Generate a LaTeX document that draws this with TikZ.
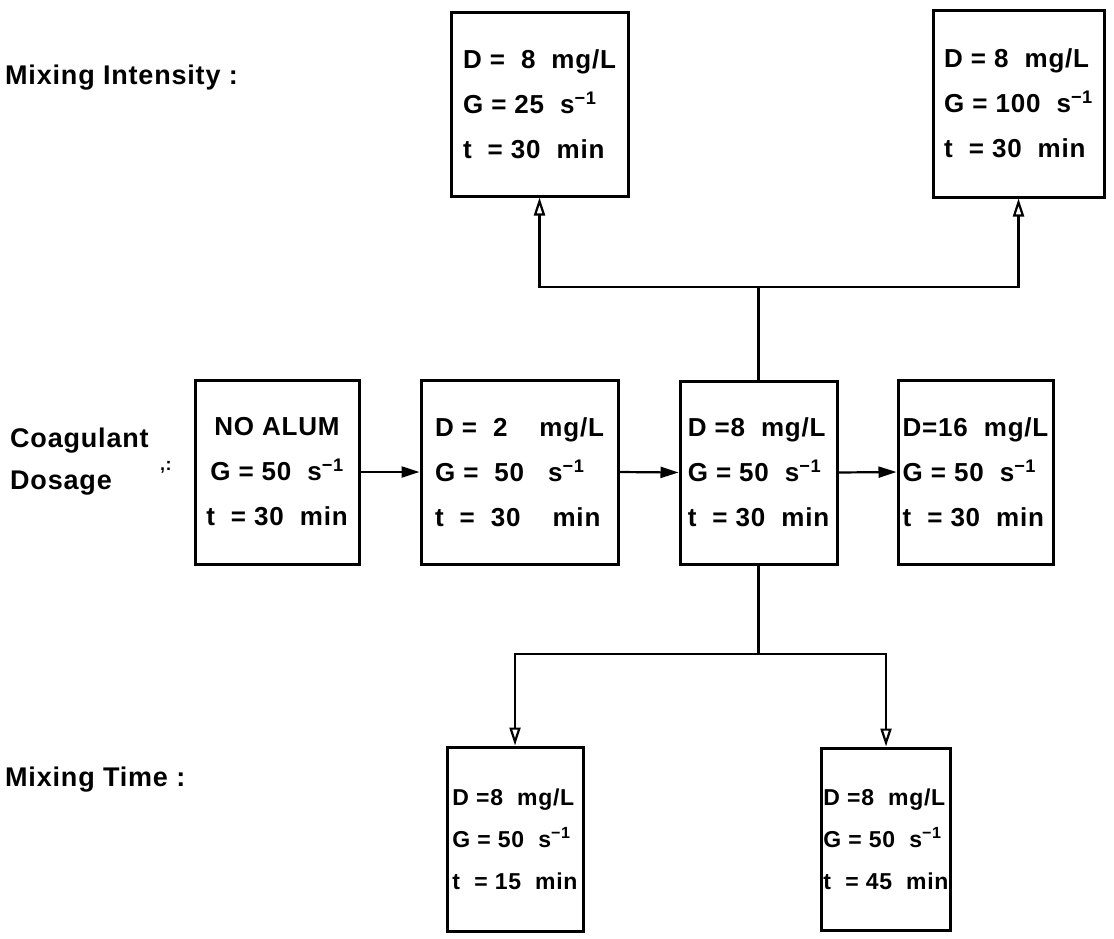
\documentclass[tikz,border=0pt]{standalone}
\usepackage{fontspec}
\setmainfont{Liberation Sans}[LetterSpace=3]
\usetikzlibrary{arrows.meta}
\tikzset{
  box/.style n args={3}{draw, line width=3pt, inner xsep=2pt, inner ysep=0pt,
    minimum width=#1, minimum height=#2, align=#3,
    font=\fontsize{26}{45}\selectfont\bfseries},
  sbox/.style={font=\fontsize{23}{42}\selectfont\bfseries},
  lab/.style={anchor=west, inner sep=0pt, align=left, font=\fontsize{27}{42}\selectfont\bfseries},
  conn/.style={line width=2.2pt},
  harr/.style={conn, -{Triangle[length=18pt,width=11pt]}},
  varr/.style={conn, -{Triangle[open,length=18pt,width=11pt,line width=2.2pt]}},
}
\newcommand{\sm}{\textsuperscript{−1}}
\begin{document}
\begin{tikzpicture}[x=1pt,y=-1pt]
\useasboundingbox (0,0) rectangle (1114,938);
% labels
\node[lab] (l1) at (5,78) {Mixing Intensity :};
\node[lab] (l2) at (10,462) {Coagulant\\Dosage};
\node[lab, font=\fontsize{18}{18}\selectfont\bfseries] (l2c) at (160,467) {,:};
\node[lab] (l3) at (5,780) {Mixing Time :};
% top row
\node[box={177pt}{184pt}{left}] (ti) at (539.5,104) {D = \ 8 \ mg/L\\G = 25 \ s\sm\\t \ = 30 \ min};
\node[box={171pt}{187pt}{left}] (tr) at (1018.5,103.5) {D = 8 \ mg/L\\G = 100 \ s\sm\\t \ = 30 \ min};
% middle row
\node[box={164pt}{184pt}{center}] (n0) at (277,472) {NO ALUM\\G = 50 \ s\sm\\t \ = 30 \ min};
\node[box={197pt}{184pt}{left}] (n2) at (519.5,472) {D = \ 2 \ \ \ mg/L\\G = \ 50 \ \ s\sm\\t \ = \ 30 \ \ \ min};
\node[box={157pt}{183pt}{left}] (n8) at (758.5,472.5) {D =8 \ mg/L\\G = 50 \ s\sm\\t \ = 30 \ min};
\node[box={155pt}{184pt}{left}] (n16) at (975.5,472) {D=16 \ mg/L\\G = 50 \ s\sm\\t \ = 30 \ min};
% bottom row
\node[box={136pt}{184pt}{left}, sbox] (bl) at (515,839) {D =8 \ mg/L\\G = 50 \ s\sm\\t \ = 15 \ min};
\node[box={128pt}{182pt}{left}, sbox] (br) at (886,839) {D =8 \ mg/L\\G = 50 \ s\sm\\t \ = 45 \ min};
% connectors
\draw[harr] (n0.east) -- (n2.west);
\draw[harr] (n2.east) -- (n8.west);
\draw[harr] (n8.east) -- (n16.west);
\coordinate (tj) at (n8.north |- 0,287);
\coordinate (bj) at (n8.south |- 0,654);
\draw[conn] (n8.north) -- (tj);
\draw[varr] (tj) -| (ti.south);
\draw[varr] (tj) -| (tr.south);
\draw[conn] (n8.south) -- (bj);
\draw[varr] (bj) -| (bl.north);
\draw[varr] (bj) -| (br.north);
\end{tikzpicture}
\end{document}
